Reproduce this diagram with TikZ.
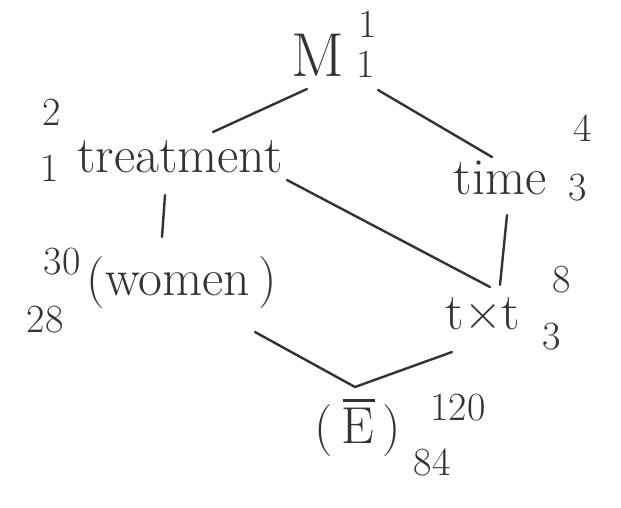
\documentclass[tikz,border=0pt]{standalone}
\usepackage{fontspec}
\usetikzlibrary{calc}
\begin{document}
\begin{tikzpicture}[x=1pt,y=-1pt,
  word/.style={inner sep=0pt, text=black!80, font=\fontsize{52}{58}\selectfont},
  num/.style={inner sep=0pt, text=black!80, font=\fontsize{40}{46}\selectfont},
  edge/.style={draw=black!80, line width=2.4pt, line cap=round}]
\useasboundingbox (0,0) rectangle (621,507);
% nodes
\node[word, font=\fontsize{62}{68}\selectfont] (M) at (318,55) {M};
\node[num] (Msup) at (368,24) {1};
\node[num] (Msub) at (366,64) {1};
\node[word] (treat) at (180,157) {treatment};
\node[num] (treatsup) at (52,112) {2};
\node[num] (treatsub) at (50,168) {1};
\node[word] (time) at (500,178) {time};
\node[num] (timesup) at (583,128) {4};
\node[num] (timesub) at (578,188) {3};
\node[word] (women) at (182,283) {(women\,)};
\node[num] (womensup) at (62,262) {30};
\node[num] (womensub) at (45,320) {28};
\node[word] (txt) at (483,314) {t×t};
\node[num] (txtsup) at (562,280) {8};
\node[num] (txtsub) at (552,337) {3};
\node[word] (E) at (358,428) {(\,\rlap{\kern1pt\rule[42pt]{32pt}{2.4pt}}E\,)};
\node[num] (Esup) at (458,408) {120};
\node[num] (Esub) at (432,462) {84};
% edges
\draw[edge] ($(M)+(-11,34)$) -- ($(treat)+(33,-25)$);
\draw[edge] ($(M)+(60,35)$) -- ($(time)+(-8,-21)$);
\draw[edge] ($(treat)+(-15,38)$) -- ($(women)+(-20,-46)$);
\draw[edge] ($(treat)+(107,23)$) -- ($(txt)+(7,-27)$);
\draw[edge] ($(time)+(7,37)$) -- ($(txt)+(17,-29)$);
\draw[edge] ($(women)+(73,49)$) -- ($(E)+(-3,-41)$);
\draw[edge] ($(txt)+(-31,38)$) -- ($(E)+(-3,-41)$);
\end{tikzpicture}
\end{document}
